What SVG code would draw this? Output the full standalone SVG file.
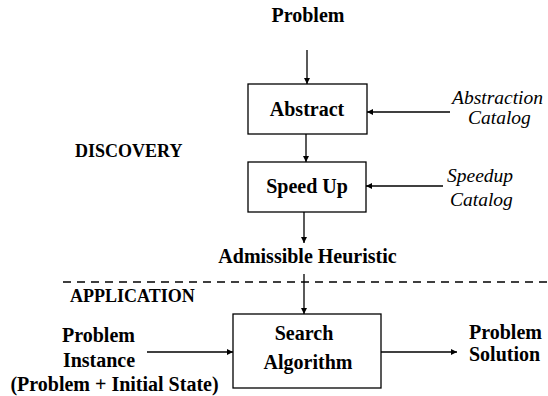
<svg xmlns="http://www.w3.org/2000/svg" width="548" height="396" viewBox="0 0 548 396">
<style>
text{font-family:"Liberation Serif","Tinos","Times New Roman","DejaVu Serif",serif;fill:#000}
.b{font-weight:bold;font-size:20px}
.s{font-weight:bold;font-size:18px}
.i{font-style:italic;font-size:19.5px}
.c{text-anchor:middle}
.box{fill:#fff;stroke:#000;stroke-width:1.3}
.ln{stroke:#000;stroke-width:1.3;fill:none}
</style>
<defs>
<marker id="ah" viewBox="0 0 10 10" refX="10" refY="5" markerWidth="7" markerHeight="6" markerUnits="userSpaceOnUse" orient="auto">
<path d="M0,0 L10,5 L0,10 z" fill="#000"/>
</marker>
</defs>
<rect width="548" height="396" fill="#fff"/>
<g id="labels">
<text class="b c" x="308" y="22">Problem</text>
<text class="s" x="75" y="157">DISCOVERY</text>
<text class="s" x="70" y="302">APPLICATION</text>
<line class="ln" x1="63" y1="282" x2="548" y2="282" stroke-dasharray="8,6"/>
</g>
<g id="abstraction-catalog">
<text class="i" x="452" y="104">Abstraction</text>
<text class="i" x="468" y="124">Catalog</text>
</g>
<g id="speedup-catalog">
<text class="i" x="447" y="182">Speedup</text>
<text class="i" x="450" y="206">Catalog</text>
</g>
<g id="abstract">
<rect class="box" x="248" y="84" width="119" height="50"/>
<text class="b c" x="307" y="116">Abstract</text>
</g>
<g id="speedup">
<rect class="box" x="248" y="162" width="118" height="50"/>
<text class="b c" x="307" y="193">Speed Up</text>
</g>
<g id="heuristic">
<text class="b c" x="307.5" y="263">Admissible Heuristic</text>
</g>
<g id="search">
<rect class="box" x="233" y="314" width="148" height="74"/>
<text class="b c" x="304" y="340">Search</text>
<text class="b c" x="308" y="369">Algorithm</text>
</g>
<g id="instance">
<text class="b c" x="98.5" y="342">Problem</text>
<text class="b c" x="99" y="367">Instance</text>
<text class="b c" x="114.5" y="391">(Problem + Initial State)</text>
</g>
<g id="solution">
<text class="b" x="469" y="339">Problem</text>
<text class="b" x="469" y="361">Solution</text>
</g>
<g id="connectors">
<line class="ln" x1="307" y1="50" x2="307" y2="84" marker-end="url(#ah)"/>
<line class="ln" x1="450" y1="112" x2="367" y2="112" marker-end="url(#ah)"/>
<line class="ln" x1="306" y1="134" x2="306" y2="162" marker-end="url(#ah)"/>
<line class="ln" x1="443" y1="186" x2="366" y2="186" marker-end="url(#ah)"/>
<line class="ln" x1="304" y1="212" x2="304" y2="243" marker-end="url(#ah)"/>
<line class="ln" x1="304" y1="274" x2="304" y2="314" marker-end="url(#ah)"/>
<line class="ln" x1="147" y1="352" x2="233" y2="352" marker-end="url(#ah)"/>
<line class="ln" x1="381" y1="352" x2="457" y2="352" marker-end="url(#ah)"/>
</g>
</svg>
